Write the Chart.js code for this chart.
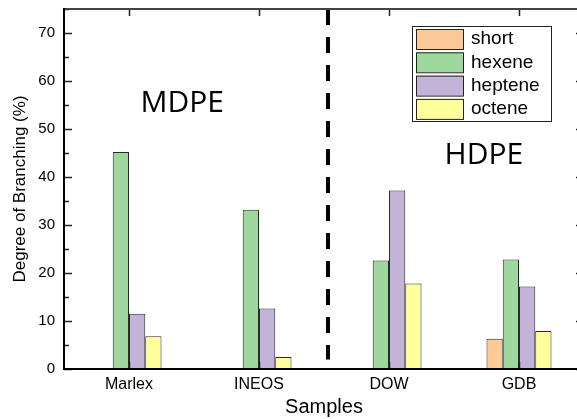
<!DOCTYPE html>
<html>
<head>
<meta charset="utf-8">
<script src="https://cdn.jsdelivr.net/npm/chart.js@4"></script>
<style>
  html, body { margin: 0; padding: 0; overflow: hidden; background: #fff; }
</style>
</head>
<body>
<canvas id="branching-chart" width="600" height="419"></canvas>
<script>
const samples = ['Marlex', 'INEOS', 'DOW', 'GDB'];
const shortBranch = [null, null, null, 6.3];
const hexene = [45.2, 33.2, 22.6, 22.8];
const heptene = [11.5, 12.6, 37.2, 17.2];
const octene = [6.8, 2.5, 17.8, 7.9];

const FONT = 'Liberation Sans, Arial, sans-serif';

// group captions and the divider, placed in axis units
const captions = [
    { text: 'MDPE', x: 0.41, y: 53.5 },
    { text: 'HDPE', x: 2.73, y: 42.7 }
];
const dividerAt = 1.53;

const framePlugin = {
    id: 'frame',
    afterDatasetsDraw(chart) {
        const { ctx, chartArea: a, scales: { x, y } } = chart;
        ctx.save();

        // dashed line between MDPE and HDPE
        ctx.strokeStyle = '#000';
        ctx.lineWidth = 4;
        ctx.setLineDash([16, 12]);
        const dx = Math.round(x.getPixelForValue(dividerAt));
        ctx.beginPath();
        ctx.moveTo(dx, a.top);
        ctx.lineTo(dx, y.getPixelForValue(2));
        ctx.stroke();
        ctx.setLineDash([]);

        // inward ticks on all four sides
        ctx.lineWidth = 1.5;
        ctx.strokeStyle = '#222';
        ctx.beginPath();
        for (let v = 0; v <= 75; v += 5) {
            const py = Math.round(y.getPixelForValue(v)) + 0.5;
            const len = v % 10 === 0 ? 8 : 5;
            ctx.moveTo(a.left, py); ctx.lineTo(a.left + len, py);
            ctx.moveTo(a.right, py); ctx.lineTo(a.right - len, py);
        }
        samples.forEach((s, i) => {
            const px = Math.round(x.getPixelForValue(i)) + 0.5;
            ctx.moveTo(px, a.top); ctx.lineTo(px, a.top + 7);
            ctx.moveTo(px, a.bottom); ctx.lineTo(px, a.bottom - 7);
        });
        ctx.stroke();

        // axis frame
        ctx.lineWidth = 2;
        ctx.strokeStyle = '#444';
        ctx.beginPath();
        ctx.moveTo(a.left, a.top); ctx.lineTo(a.right, a.top); ctx.lineTo(a.right, a.bottom);
        ctx.stroke();
        ctx.strokeStyle = '#000';
        ctx.beginPath();
        ctx.moveTo(a.left, a.top - 1); ctx.lineTo(a.left, a.bottom); ctx.lineTo(a.right, a.bottom);
        ctx.stroke();

        // MDPE / HDPE captions
        ctx.fillStyle = '#000';
        ctx.font = '30px "Open Sans", sans-serif';
        ctx.textAlign = 'center';
        ctx.textBaseline = 'alphabetic';
        captions.forEach(c => {
            ctx.fillText(c.text, x.getPixelForValue(c.x), y.getPixelForValue(c.y));
        });
        ctx.restore();
    },
    afterDraw(chart) {
        // boxed legend in the top right corner
        const { ctx, chartArea: a } = chart;
        const left = a.right - 172, top = a.top + 17;
        ctx.save();
        ctx.lineWidth = 1;
        ctx.strokeStyle = '#222';
        ctx.strokeRect(left + 0.5, top + 0.5, 139, 95);
        ctx.font = '19px ' + FONT;
        ctx.textBaseline = 'middle';
        ctx.textAlign = 'left';
        chart.data.datasets.forEach((ds, i) => {
            const ry = top + 3 + i * 23.3;
            ctx.fillStyle = ds.backgroundColor;
            ctx.fillRect(left + 4, ry, 47, 20);
            ctx.strokeRect(left + 4.5, ry + 0.5, 47, 20);
            ctx.fillStyle = '#000';
            ctx.fillText(ds.label, left + 59, ry + 10);
        });
        ctx.restore();
    }
};

new Chart(document.getElementById('branching-chart'), {
    type: 'bar',
    data: {
        labels: samples,
        datasets: [
            { label: 'short', data: shortBranch, backgroundColor: '#FDC997' },
            { label: 'hexene', data: hexene, backgroundColor: '#9FD89F' },
            { label: 'heptene', data: heptene, backgroundColor: '#C3B3D8' },
            { label: 'octene', data: octene, backgroundColor: '#FFFF9E' }
        ]
    },
    options: {
        responsive: false,
        animation: false,
        layout: { padding: { top: 9, right: 16, left: 0, bottom: 0 } },
        datasets: {
            bar: {
                categoryPercentage: 0.5,
                barPercentage: 1,
                borderWidth: 1,
                borderColor: '#2a2a2a'
            }
        },
        plugins: {
            legend: { display: false },
            tooltip: { enabled: false }
        },
        scales: {
            x: {
                grid: { display: false, drawTicks: false },
                border: { display: false },
                ticks: { color: '#000', font: { family: FONT, size: 16 }, padding: 6 },
                title: {
                    display: true,
                    text: 'Samples',
                    color: '#000',
                    font: { family: FONT, size: 20 },
                    padding: { top: 0, bottom: 0 }
                },
                afterFit(scale) { scale.height = 50; }
            },
            y: {
                min: 0,
                max: 75,
                grid: { display: false, drawTicks: false },
                border: { display: false },
                ticks: {
                    stepSize: 10,
                    includeBounds: false,
                    padding: 9,
                    color: '#000',
                    font: { family: FONT, size: 15 }
                },
                title: {
                    display: true,
                    text: 'Degree of Branching (%)',
                    color: '#000',
                    font: { family: FONT, size: 17 },
                    padding: { top: 10, bottom: 0 }
                },
                afterFit(scale) {
                    scale.width = 64;
                    scale.paddingTop = 0;
                    scale.paddingBottom = 0;
                }
            }
        }
    },
    plugins: [framePlugin]
});
</script>
</body>
</html>
